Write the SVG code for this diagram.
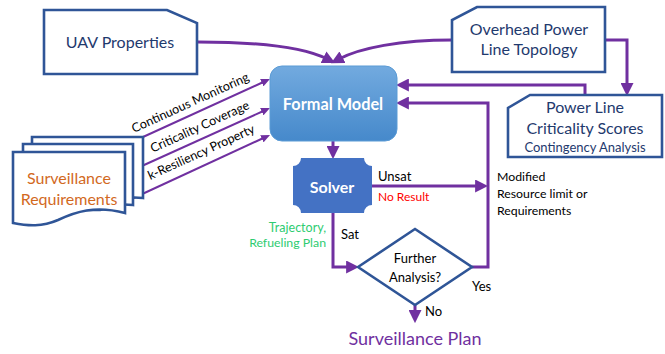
<svg xmlns="http://www.w3.org/2000/svg" width="665" height="354" viewBox="0 0 665 354">
<style>
.box{fill:#fff;stroke:#2F5597;stroke-width:2.6}
.bt{font-family:Lato,"Liberation Sans",sans-serif;fill:#1F3A6E;text-anchor:middle}
.lbl{font-family:Lato,"Liberation Sans",sans-serif;fill:#000;font-size:13px}
.th{fill:none;stroke:#7030A0;stroke-width:3}
.tn{fill:none;stroke:#7030A0;stroke-width:2}
</style>
<defs>
<linearGradient id="fm" x1="0" y1="0" x2="0" y2="1">
<stop offset="0" stop-color="#72AADF"/>
<stop offset="1" stop-color="#4689CB"/>
</linearGradient>
<marker id="ah" markerUnits="userSpaceOnUse" markerWidth="13" markerHeight="13" viewBox="0 0 10 10" refX="3" refY="5" orient="auto">
<path d="M0,0 L10,5 L0,10 z" fill="#7030A0"/>
</marker>
<marker id="as" markerUnits="userSpaceOnUse" markerWidth="9" markerHeight="8" viewBox="0 0 9 8" refX="3" refY="4" orient="auto">
<path d="M0,0 L9,4 L0,8 z" fill="#7030A0"/>
</marker>
</defs>

<g id="connectors">
<path class="th" d="M198,42 C260,42 305,48 327,59" marker-end="url(#ah)"/>
<path class="th" d="M452,40 C400,40 360,48 339,59" marker-end="url(#ah)"/>
<path class="th" d="M333,141 V150" marker-end="url(#ah)"/>
<path class="th" d="M333,213 V267 H350" marker-end="url(#ah)"/>
<path class="th" d="M372,186 H479" marker-end="url(#ah)"/>
<path class="th" d="M472,267 H488 V103 H405" marker-end="url(#ah)"/>
<path class="th" d="M585,95 V85 H405" marker-end="url(#ah)"/>
<path class="th" d="M605,40 H627 V87" marker-end="url(#ah)"/>
<path class="th" d="M415,303 V314" marker-end="url(#ah)"/>
<path class="tn" d="M143,137 L264.5,81.5" marker-end="url(#as)"/>
<path class="tn" d="M133,170 L264.5,110.5" marker-end="url(#as)"/>
<path class="tn" d="M125,202 L264.6,137.5" marker-end="url(#as)"/>
<text class="lbl" text-anchor="middle" style="font-size:12.5px" transform="translate(192,106.5) rotate(-24.5)">Continuous Monitoring</text>
<text class="lbl" text-anchor="middle" style="font-size:12.5px" transform="translate(201.5,130.5) rotate(-24.5)">Criticality Coverage</text>
<text class="lbl" text-anchor="middle" style="font-size:12.5px" transform="translate(203,156) rotate(-24.5)">k-Resiliency Property</text>
<text class="lbl" x="378" y="181">Unsat</text>
<text class="lbl" x="378" y="201" style="fill:#FF0000;font-size:12px">No Result</text>
<text class="lbl" x="497" y="181" style="font-size:12.3px">Modified</text>
<text class="lbl" x="497" y="198" style="font-size:12.3px">Resource limit or</text>
<text class="lbl" x="497" y="215" style="font-size:12.3px">Requirements</text>
<text class="lbl" x="341" y="239">Sat</text>
<text class="lbl" x="326" y="232" text-anchor="end" style="fill:#2ECC71;font-size:12.5px">Trajectory,</text>
<text class="lbl" x="326" y="247" text-anchor="end" style="fill:#2ECC71;font-size:12.3px">Refueling Plan</text>
<text class="lbl" x="472" y="291">Yes</text>
<text class="lbl" x="425" y="316">No</text>
</g>

<g id="uav">
<path class="box" d="M44,10 H167 L197,23 V74 H44 Z"/>
<text class="bt" x="120" y="48" font-size="16">UAV Properties</text>
</g>

<g id="overhead">
<path class="box" d="M477,7 H605 V72 H452 V20 Z"/>
<text class="bt" x="529" y="35" font-size="16">Overhead Power</text>
<text class="bt" x="529" y="55" font-size="16">Line Topology</text>
</g>

<g id="powerline">
<path class="box" d="M530,95 H662 V157 H508 V108 Z"/>
<text class="bt" x="585" y="113" font-size="16">Power Line</text>
<text class="bt" x="585" y="134" font-size="16">Criticality Scores</text>
<text class="bt" x="585" y="152" font-size="13">Contingency Analysis</text>
</g>

<g id="formal-model">
<rect x="270" y="66" width="127" height="75" rx="12" fill="url(#fm)" stroke="#5B9BD5" stroke-width="1"/>
<text x="333" y="110" font-family="Lato,'Liberation Sans',sans-serif" font-weight="bold" font-size="16.3" fill="#fff" text-anchor="middle">Formal Model</text>
</g>

<g id="solver">
<path d="M301,158 H364 A8,8 0 0 0 372,166 V205 A8,8 0 0 0 364,213 H301 A8,8 0 0 0 293,205 V166 A8,8 0 0 0 301,158 Z" fill="#4472C4"/>
<text x="332" y="193" font-family="Lato,'Liberation Sans',sans-serif" font-weight="bold" font-size="16" fill="#fff" text-anchor="middle">Solver</text>
</g>

<g id="surveillance-requirements">
<path class="box" d="M32,137 H143 V198 C125,196 120,200 110,203 L32,203 Z"/>
<path class="box" d="M23,144 H133 V205 C115,203 110,207 100,210 L23,210 Z"/>
<path class="box" d="M13,152 H125 V213 C95,205 75,212 58,220 C42,227 28,226 13,223 Z"/>
<text x="69" y="184" font-family="Lato,'Liberation Sans',sans-serif" font-size="16" fill="#D2691E" text-anchor="middle">Surveillance</text>
<text x="69" y="205" font-family="Lato,'Liberation Sans',sans-serif" font-size="16" fill="#D2691E" text-anchor="middle">Requirements</text>
</g>

<g id="further-analysis">
<polygon points="358,267 415,229 472,267 415,305" fill="#fff" stroke="#2F5597" stroke-width="2.6"/>
<text x="415" y="263" font-family="Lato,'Liberation Sans',sans-serif" font-size="13" fill="#000" text-anchor="middle">Further</text>
<text x="415" y="282" font-family="Lato,'Liberation Sans',sans-serif" font-size="13" fill="#000" text-anchor="middle">Analysis?</text>
</g>

<g id="surveillance-plan">
<text x="415" y="345" font-family="Lato,'Liberation Sans',sans-serif" font-size="18" fill="#7030A0" text-anchor="middle">Surveillance Plan</text>
</g>
</svg>
